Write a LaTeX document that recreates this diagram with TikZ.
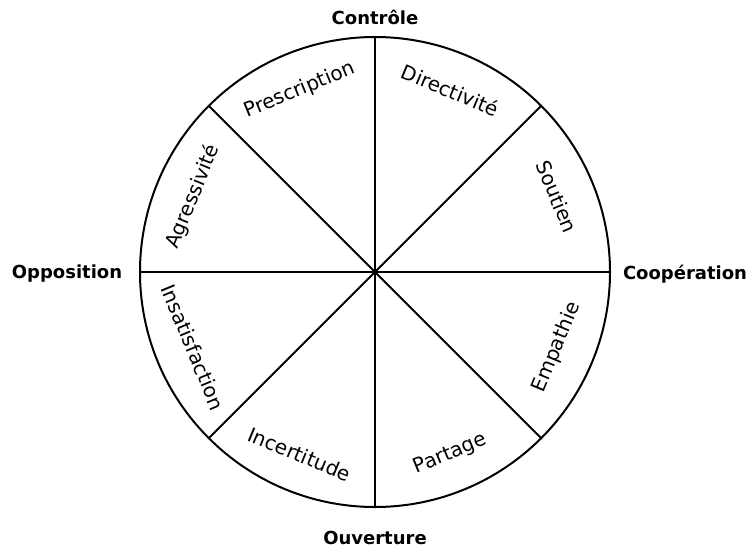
\documentclass[tikz,border=0pt]{standalone}
\usepackage{fontspec}
\setmainfont{DejaVu Sans}
\usetikzlibrary{positioning}

\begin{document}
\begin{tikzpicture}[
  x=0.75pt, y=0.75pt,
  wheelbox/.style={circle, draw, line width=1.5pt, outer sep=0pt, inner sep=0pt, minimum size=352.5pt},
  spoke/.style={line width=1.5pt},
  pole/.style={font=\bfseries\fontsize{13.5}{16}\selectfont, inner sep=1pt},
  sector/.style={font=\fontsize{15}{18}\selectfont, inner sep=1pt}
]
  \useasboundingbox (-375,-278) rectangle (373,272);

  \node[wheelbox] (wheel) at (0,0) {};
  \foreach \a in {0,45,90,135}
    \draw[spoke] (wheel.\a) -- (wheel.\a+180);

  % poles
  \node[pole] (ctrl) at (0,255) {Contrôle};
  \node[pole] (ouv) at (0,-266) {Ouverture};
  \node[pole] (opp) at (-308,-2) {Opposition};
  \node[pole] (coop) at (310,-2) {Coopération};

  % sectors
  \foreach \a/\r/\txt/\nm in {
      67.5/-22.5/Directivité/s1,
      22.5/-67.5/Soutien/s2,
      -22.5/67.5/Empathie/s3,
      -67.5/22.5/Partage/s4,
      -112.5/-22.5/Incertitude/s5,
      -157.5/-67.5/Insatisfaction/s6,
      157.5/67.5/Agressivité/s7,
      112.5/22.5/Prescription/s8}
    \node[sector, rotate=\r] (\nm) at (\a:197) {\txt};
\end{tikzpicture}
\end{document}
